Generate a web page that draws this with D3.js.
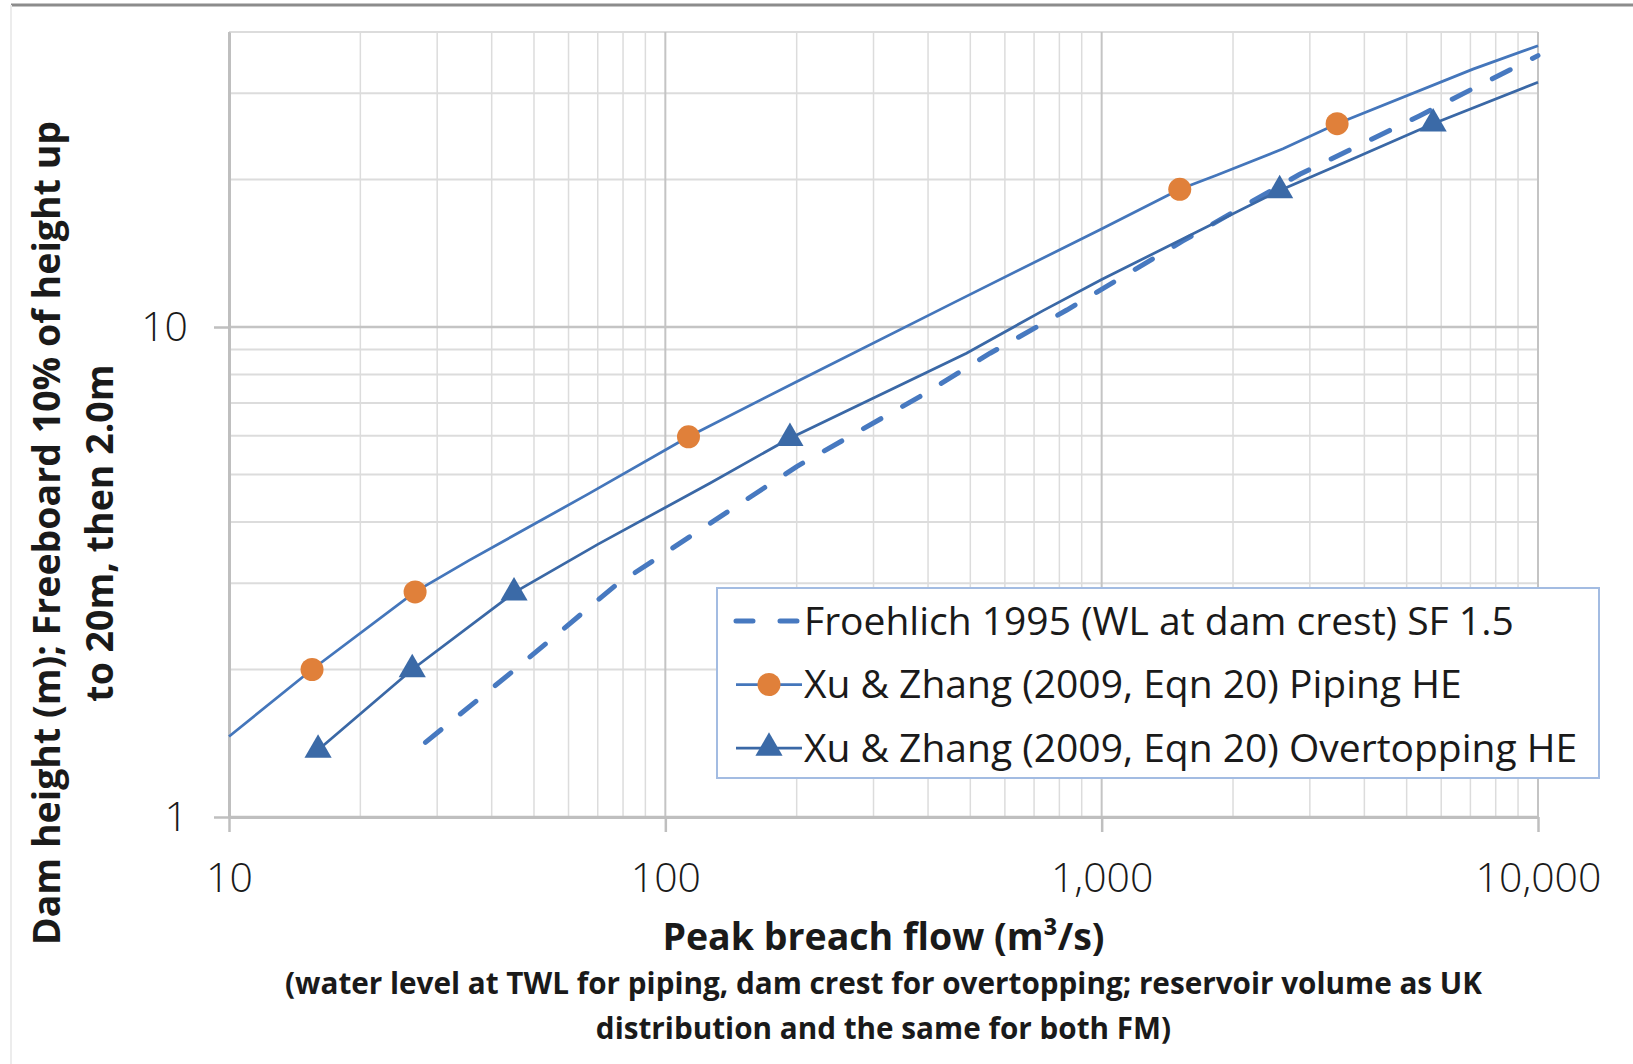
<!DOCTYPE html>
<html>
<head>
<meta charset="utf-8">
<script src="https://d3js.org/d3.v7.min.js"></script>
<style>
  body { margin: 0; background: #fff; }
  svg { display: block; }
</style>
</head>
<body>
<script>

  // peak breach flow (m3/s) against dam height (m)
  var froehlichFlow   = [28.2, 44.6, 76.9, 200, 383, 555, 832, 1538, 2845, 5358, 10000];
  var froehlichHeight = [1.42, 1.98, 2.97, 5.19, 7.21, 8.84, 10.83, 15.0, 20.5, 27.0, 35.8];

  var pipingFlow   = [10, 15.5, 26.7, 35.5, 66.8, 113, 203, 457, 991, 1510, 1833, 2604, 3464, 7096, 10000];
  var pipingHeight = [1.46, 2.0, 2.88, 3.34, 4.57, 5.97, 7.79, 11.2, 15.8, 19.1, 20.4, 23.1, 26.0, 33.6, 37.5];
  var pipingMarkFlow   = [15.5, 26.7, 113, 1510, 3464];
  var pipingMarkHeight = [2.0, 2.88, 5.97, 19.1, 26.0];

  var overFlow   = [16.0, 26.3, 45.0, 70, 126.5, 193, 490, 734, 1000, 2558, 3838, 5750, 10000];
  var overHeight = [1.37, 2.0, 2.87, 3.6, 4.8, 5.93, 8.84, 10.8, 12.5, 19.0, 22.2, 26.0, 31.6];
  var overMarkFlow   = [16.0, 26.3, 45.0, 193, 2558, 5750];
  var overMarkHeight = [1.37, 2.0, 2.87, 5.93, 19.0, 26.0];

  var xTicks = [10, 100, 1000, 10000];
  var yTicks = [1, 10];

  var legendLabels = [
    "Froehlich 1995 (WL at dam crest) SF 1.5",
    "Xu & Zhang (2009, Eqn 20) Piping HE",
    "Xu & Zhang (2009, Eqn 20) Overtopping HE"
  ];

  var config = {
    canvas: {width: 1633, height: 1064},
    plot: {left: 229, right: 1538, top: 32, bottom: 817},
    font: "'Open Sans', 'DejaVu Sans', sans-serif"
  };

  var colors = {
    dash: "#4779c0",
    piping: "#4476bb",
    over: "#3a68a6",
    orange: "#e0803a",
    tri: "#3b6aa7"
  };

  var svg = d3.select("body").append("svg")
    .attr("width", config.canvas.width)
    .attr("height", config.canvas.height)
    .style("background", "#fff");

  var x = d3.scaleLog().domain([10, 10000]).range([config.plot.left, config.plot.right]);
  var y = d3.scaleLog().domain([1, 40]).range([config.plot.bottom, config.plot.top]);

  function isMajor(v) { return Math.abs(Math.log10(v) - Math.round(Math.log10(v))) < 1e-9; }

  // frame lines of the picture
  svg.append("line").attr("x1", 11).attr("x2", config.canvas.width).attr("y1", 5).attr("y2", 5)
    .attr("stroke", "#8c8c8c").attr("stroke-width", 3);
  svg.append("line").attr("x1", 11).attr("x2", 11).attr("y1", 5).attr("y2", config.canvas.height)
    .attr("stroke", "#ececec").attr("stroke-width", 2);

  // grid
  var grid = svg.append("g");
  grid.selectAll(".vminor").data(x.ticks().filter(function(d){ return !isMajor(d); }))
    .enter().append("line")
    .attr("x1", x).attr("x2", x).attr("y1", config.plot.top).attr("y2", config.plot.bottom)
    .attr("stroke", "#dcdcdc").attr("stroke-width", 1.5);
  grid.selectAll(".hminor").data(y.ticks().filter(function(d){ return !isMajor(d); }))
    .enter().append("line")
    .attr("y1", y).attr("y2", y).attr("x1", config.plot.left).attr("x2", config.plot.right)
    .attr("stroke", "#dcdcdc").attr("stroke-width", 2);
  grid.selectAll(".vmajor").data(x.ticks().filter(isMajor))
    .enter().append("line")
    .attr("x1", x).attr("x2", x).attr("y1", config.plot.top).attr("y2", config.plot.bottom)
    .attr("stroke", "#c4c4c4").attr("stroke-width", 2);
  grid.selectAll(".hmajor").data(y.ticks().filter(isMajor))
    .enter().append("line")
    .attr("y1", y).attr("y2", y).attr("x1", config.plot.left).attr("x2", config.plot.right)
    .attr("stroke", "#c4c4c4").attr("stroke-width", 2.5);

  // axes
  var xAxis = svg.append("g")
    .attr("transform", "translate(0," + config.plot.bottom + ")")
    .call(d3.axisBottom(x).tickValues(xTicks).tickFormat(d3.format(",")).tickSize(15).tickSizeOuter(0).tickPadding(31));
  var yAxis = svg.append("g")
    .attr("transform", "translate(" + config.plot.left + ",0)")
    .call(d3.axisLeft(y).tickValues(yTicks).tickFormat(d3.format("d")).tickSize(15).tickSizeOuter(0).tickPadding(26));

  [xAxis, yAxis].forEach(function(g) {
    g.select(".domain").attr("stroke", "#bfbfbf").attr("stroke-width", 3);
    g.selectAll(".tick line").attr("stroke", "#bfbfbf").attr("stroke-width", 2.5);
    g.selectAll(".tick text")
      .attr("fill", "#1a1a1a")
      .attr("font-family", config.font)
      .attr("font-weight", 300)
      .attr("font-size", 41);
  });

  // series
  function toPoints(xs, ys) { return xs.map(function(v, i){ return [v, ys[i]]; }); }
  var line = d3.line().x(function(d){ return x(d[0]); }).y(function(d){ return y(d[1]); });

  svg.append("path").datum(toPoints(froehlichFlow, froehlichHeight))
    .attr("d", line).attr("fill", "none")
    .attr("stroke", colors.dash).attr("stroke-width", 5)
    .attr("stroke-dasharray", "20 25").attr("stroke-linecap", "round");

  svg.append("path").datum(toPoints(pipingFlow, pipingHeight))
    .attr("d", line).attr("fill", "none")
    .attr("stroke", colors.piping).attr("stroke-width", 2.75);

  svg.append("path").datum(toPoints(overFlow, overHeight))
    .attr("d", line).attr("fill", "none")
    .attr("stroke", colors.over).attr("stroke-width", 2.75);

  svg.selectAll(".pip").data(toPoints(pipingMarkFlow, pipingMarkHeight))
    .enter().append("circle")
    .attr("cx", function(d){ return x(d[0]); })
    .attr("cy", function(d){ return y(d[1]); })
    .attr("r", 11.5).attr("fill", colors.orange);

  var tri = d3.symbol().type(d3.symbolTriangle).size(320);
  svg.selectAll(".ovr").data(toPoints(overMarkFlow, overMarkHeight))
    .enter().append("path")
    .attr("d", tri)
    .attr("transform", function(d){ return "translate(" + x(d[0]) + "," + y(d[1]) + ")"; })
    .attr("fill", colors.tri);

  // legend
  var legend = svg.append("g").attr("transform", "translate(717,588)");
  legend.append("rect").attr("width", 882).attr("height", 190)
    .attr("fill", "#fff").attr("stroke", "#a3bce2").attr("stroke-width", 2);

  var rows = legend.selectAll(".row").data(legendLabels).enter().append("g")
    .attr("transform", function(d, i){ return "translate(0," + (33 + i * 63.5) + ")"; });

  rows.append("line").attr("x1", 19).attr("x2", 85).attr("y1", 0).attr("y2", 0)
    .attr("stroke", function(d, i){ return i === 0 ? colors.dash : (i === 1 ? colors.piping : colors.over); })
    .attr("stroke-width", function(d, i){ return i === 0 ? 5 : 2.75; })
    .attr("stroke-dasharray", function(d, i){ return i === 0 ? "17 27" : null; })
    .attr("stroke-linecap", function(d, i){ return i === 0 ? "round" : "butt"; });

  rows.filter(function(d, i){ return i === 1; }).append("circle")
    .attr("cx", 52).attr("r", 11.5).attr("fill", colors.orange);
  rows.filter(function(d, i){ return i === 2; }).append("path")
    .attr("d", tri).attr("transform", "translate(52,0)").attr("fill", colors.tri);

  rows.append("text").text(function(d){ return d; })
    .attr("x", 87).attr("dy", "0.35em")
    .attr("font-family", config.font).attr("font-size", 39).attr("fill", "#1a1a1a");

  // axis titles
  var cx = (config.plot.left + config.plot.right) / 2;
  svg.append("text").attr("x", cx).attr("y", 937).attr("dy", "0.35em")
    .attr("text-anchor", "middle").attr("font-family", config.font)
    .attr("font-weight", 700).attr("font-size", 37.5).attr("fill", "#1a1a1a")
    .text("Peak breach flow (m³/s)");

  var sub = ["(water level at TWL for piping, dam crest for overtopping; reservoir volume as UK",
             "distribution and the same for both FM)"];
  svg.selectAll(".sub").data(sub).enter().append("text")
    .attr("x", cx).attr("y", function(d, i){ return 984 + i * 45; }).attr("dy", "0.35em")
    .attr("text-anchor", "middle").attr("font-family", config.font)
    .attr("font-weight", 700).attr("font-size", 29.7).attr("fill", "#1a1a1a")
    .text(function(d){ return d; });

  var ytitle = ["Dam height (m); Freeboard 10% of height up", "to 20m, then 2.0m"];
  svg.selectAll(".yt").data(ytitle).enter().append("text")
    .attr("transform", function(d, i){ return "translate(" + (47 + i * 53) + ",533) rotate(-90)"; })
    .attr("dy", "0.35em")
    .attr("text-anchor", "middle").attr("font-family", config.font)
    .attr("font-weight", 700).attr("font-size", 37.5).attr("fill", "#1a1a1a")
    .text(function(d){ return d; });

</script>
</body>
</html>
